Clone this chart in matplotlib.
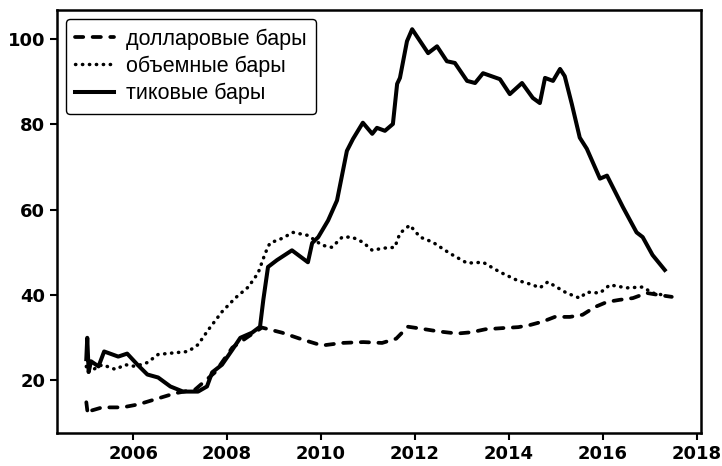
import matplotlib
matplotlib.use("Agg")
import matplotlib.pyplot as plt

# dollar bars (dashed)
dollar_x = [2005.0, 2005.03, 2005.06, 2005.34, 2005.77, 2006.11, 2006.47, 2006.89, 2007.32,
            2007.74, 2008.11, 2008.45, 2008.74, 2009.17, 2009.60, 2010.02, 2010.45, 2010.9,
            2011.3, 2011.6, 2011.85, 2012.1, 2012.5, 2012.9, 2013.2, 2013.5, 2013.9, 2014.2,
            2014.45, 2014.72, 2014.98, 2015.3, 2015.57, 2015.83, 2016.09, 2016.36, 2016.64,
            2016.94, 2017.21, 2017.47]
dollar_y = [14.9, 12.2, 12.8, 13.7, 13.7, 14.4, 15.6, 17.0, 17.9,
            21.9, 27.7, 30.3, 32.4, 31.2, 29.6, 28.2, 28.8, 29.0,
            28.8, 29.8, 32.6, 32.2, 31.5, 31.0, 31.3, 32.0, 32.3, 32.5,
            33.0, 33.8, 34.9, 34.9, 35.4, 37.2, 38.4, 38.9, 39.3,
            40.5, 40.0, 39.6]

# volume bars (dotted)
volume_x = [2005.0, 2005.03, 2005.34, 2005.62, 2005.83, 2006.04, 2006.3, 2006.53, 2006.89,
            2007.17, 2007.38, 2007.6, 2007.89, 2008.17, 2008.45, 2008.66, 2008.81, 2008.91,
            2009.17, 2009.4, 2009.72, 2010.02, 2010.23, 2010.45, 2010.66, 2010.89, 2011.09,
            2011.32, 2011.57, 2011.68, 2011.89, 2012.11, 2012.38, 2012.74, 2013.11, 2013.45,
            2013.81, 2014.17, 2014.51, 2014.66, 2014.83, 2015.23, 2015.51, 2015.66, 2015.94,
            2016.15, 2016.51, 2016.85, 2017.06, 2017.3]
volume_y = [23.3, 21.9, 23.7, 22.6, 23.7, 23.3, 24.2, 26.1, 26.5,
            26.8, 28.4, 31.9, 36.1, 39.3, 41.9, 45.2, 49.8, 52.2,
            53.3, 54.7, 54.0, 51.7, 51.2, 53.6, 53.6, 52.4, 50.5,
            51.0, 51.2, 54.5, 56.4, 53.6, 52.4, 49.8, 47.5, 47.7,
            45.4, 43.5, 42.4, 41.7, 43.1, 40.5, 39.3, 40.7, 40.5,
            42.4, 41.7, 41.9, 40.5, 40.0]

# tick bars (solid)
tick_x = [2005.0, 2005.02, 2005.05, 2005.1, 2005.26, 2005.38, 2005.68, 2005.87, 2006.09,
          2006.30, 2006.53, 2006.79, 2007.06, 2007.38, 2007.57, 2007.68, 2007.89, 2008.11,
          2008.28, 2008.53, 2008.70, 2008.77, 2008.87, 2009.06, 2009.38, 2009.72, 2009.81,
          2009.94, 2010.15, 2010.34, 2010.55, 2010.68, 2010.89, 2011.09, 2011.19, 2011.36,
          2011.53, 2011.62, 2011.68, 2011.83, 2011.94, 2012.11, 2012.28, 2012.47, 2012.68,
          2012.85, 2013.11, 2013.28, 2013.45, 2013.81, 2014.02, 2014.28, 2014.51, 2014.66,
          2014.77, 2014.94, 2015.09, 2015.19, 2015.34, 2015.51, 2015.66, 2015.94, 2016.09,
          2016.43, 2016.72, 2016.85, 2017.06, 2017.32]
tick_y = [25.0, 30.0, 22.0, 24.5, 23.3, 26.8, 25.6, 26.3, 23.7,
          21.4, 20.7, 18.6, 17.4, 17.4, 18.6, 21.9, 23.7, 27.2,
          30.0, 31.2, 32.6, 38.9, 46.6, 48.2, 50.5, 47.7, 52.2,
          53.6, 57.5, 62.2, 73.8, 76.6, 80.4, 77.8, 79.2, 78.5,
          80.1, 89.5, 90.9, 99.5, 102.3, 99.5, 96.7, 98.3, 94.8,
          94.4, 90.2, 89.7, 92.0, 90.6, 87.1, 89.7, 86.2, 85.0,
          90.9, 90.2, 93.0, 91.3, 84.8, 76.9, 74.3, 67.3, 68.0,
          60.6, 54.7, 53.6, 49.4, 45.9]

labels = ["долларовые бары", "объемные бары", "тиковые бары"]
xticks = [2006, 2008, 2010, 2012, 2014, 2016, 2018]
yticks = [20, 40, 60, 80, 100]

fig = plt.figure(figsize=(7.22, 4.66), dpi=100)
ax = fig.add_axes([0.079, 0.0708, 0.892, 0.9077])

ax.plot(dollar_x, dollar_y, color="black", lw=2.7, linestyle=(0, (2.2, 2.5)),
        dash_capstyle="round", label=labels[0])
ax.plot(volume_x, volume_y, color="black", lw=2.5, linestyle=(0, (0.1, 1.9)),
        dash_capstyle="round", label=labels[1])
ax.plot(tick_x, tick_y, color="black", lw=2.9, solid_joinstyle="round", label=labels[2])

ax.set_xticks(xticks)
ax.set_yticks(yticks)
ax.set_xticklabels([str(t) for t in xticks], fontsize=13, fontweight="bold",
                   family="DejaVu Sans")
ax.set_yticklabels([str(t) for t in yticks], fontsize=13, fontweight="bold",
                   family="DejaVu Sans")
ax.tick_params(width=1.5, length=5)
for s in ax.spines.values():
    s.set_linewidth(1.8)

leg = ax.legend(loc="upper left", prop={"family": "Liberation Sans", "size": 15.5},
                frameon=True, fancybox=True, edgecolor="black", handlelength=1.8,
                labelspacing=0.28, borderpad=0.45, handletextpad=0.55,
                borderaxespad=0.4)
leg.get_frame().set_linewidth(1.0)
leg.get_frame().set_alpha(1)

fig.savefig("out.png", dpi=100)
